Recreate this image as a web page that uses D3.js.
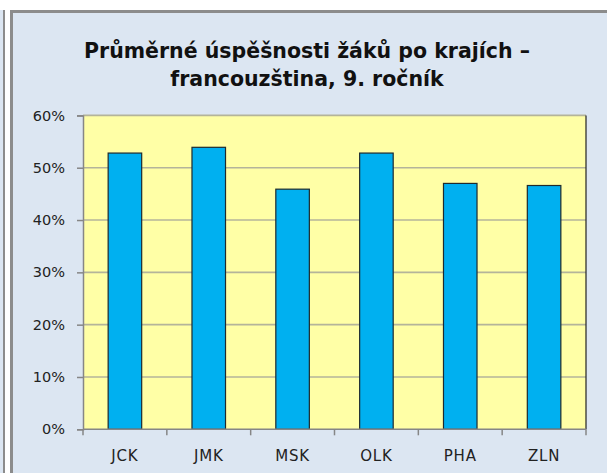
<!DOCTYPE html>
<html><head><meta charset="utf-8">
<script src="https://cdn.jsdelivr.net/npm/d3@7"></script>
<style>html,body{margin:0;padding:0;background:#fff;overflow:hidden}</style>
</head><body>
<svg id="c" width="607" height="473"></svg>
<script>
const categories = ["JCK","JMK","MSK","OLK","PHA","ZLN"];
const values = [52.8, 53.9, 45.9, 52.8, 47.0, 46.6];
const yTicks = [0,10,20,30,40,50,60];
const titleLines = ["Průměrné úspěšnosti žáků po krajích –", "francouzština, 9. ročník"];

const svg = d3.select("#c");
const font = "'DejaVu Sans', sans-serif";

// outer frames
svg.append("rect").attr("x",0).attr("y",10).attr("width",3).attr("height",463).attr("fill","#DCE6F2");
svg.append("rect").attr("x",3).attr("y",10).attr("width",2).attr("height",463).attr("fill","#8C8C8C");
svg.append("rect").attr("x",11.5).attr("y",11.5).attr("width",620).attr("height",480)
  .attr("fill","#DCE6F2").attr("stroke","#8C8C8C").attr("stroke-width",3);

const L=83, R=586, T=115.4, B=429.3;
const x = d3.scaleBand().domain(categories).range([L,R]).paddingInner(0.6).paddingOuter(0.3);
const y = d3.scaleLinear().domain([0,60]).range([B,T]);

svg.append("rect").attr("x",L).attr("y",T).attr("width",R-L).attr("height",B-T).attr("fill","#FFFFA6");

// gridlines
svg.append("g").selectAll("line").data(yTicks.filter(d=>d>0)).join("line")
  .attr("x1",L).attr("x2",R).attr("y1",d=>y(d)).attr("y2",d=>y(d))
  .attr("stroke","#B4B49A").attr("stroke-width",1.6);

// right border
svg.append("line").attr("x1",R).attr("x2",R).attr("y1",T).attr("y2",B).attr("stroke","#222").attr("stroke-width",1.2);

// bars
svg.append("g").selectAll("rect").data(values).join("rect")
  .attr("x",(d,i)=>x(categories[i])).attr("width",x.bandwidth())
  .attr("y",d=>y(d)).attr("height",d=>B-y(d))
  .attr("fill","#00B0F0").attr("stroke","#1E2A2E").attr("stroke-width",1.2);

// y axis
const ya = svg.append("g").attr("transform",`translate(${L},0)`)
  .call(d3.axisLeft(y).tickValues(yTicks).tickSize(6).tickPadding(12).tickFormat(d=>d+"%"));
ya.attr("font-size",null).attr("font-family",null);
ya.select(".domain").attr("stroke","#868686").attr("stroke-width",1.5);
ya.selectAll(".tick line").attr("stroke","#868686").attr("stroke-width",1.5);
ya.selectAll("text").attr("font-family",font).attr("font-size",14.5).attr("fill","#222");

// x axis
const xEdge = d3.scaleLinear().domain([0,categories.length]).range([L,R]);
const xa = svg.append("g").attr("transform",`translate(0,${B})`);
xa.append("line").attr("x1",L).attr("x2",R).attr("stroke","#868686").attr("stroke-width",1.5);
xa.selectAll("line.t").data(d3.range(categories.length+1)).join("line").attr("class","t")
  .attr("x1",d=>xEdge(d)).attr("x2",d=>xEdge(d)).attr("y1",0).attr("y2",6)
  .attr("stroke","#868686").attr("stroke-width",1.5);
xa.selectAll("text").data(categories).join("text")
  .attr("x",d=>x(d)+x.bandwidth()/2).attr("y",32).attr("text-anchor","middle")
  .attr("font-family",font).attr("font-size",15).attr("fill","#222")
  .attr("letter-spacing",0.8).text(d=>d);

// title
svg.append("g").selectAll("text").data(titleLines).join("text")
  .attr("x",307).attr("y",(d,i)=>58+i*28).attr("text-anchor","middle")
  .attr("font-family",font).attr("font-weight","bold").attr("font-size",20.5).attr("fill","#111")
  .text(d=>d);
</script>
</body></html>
